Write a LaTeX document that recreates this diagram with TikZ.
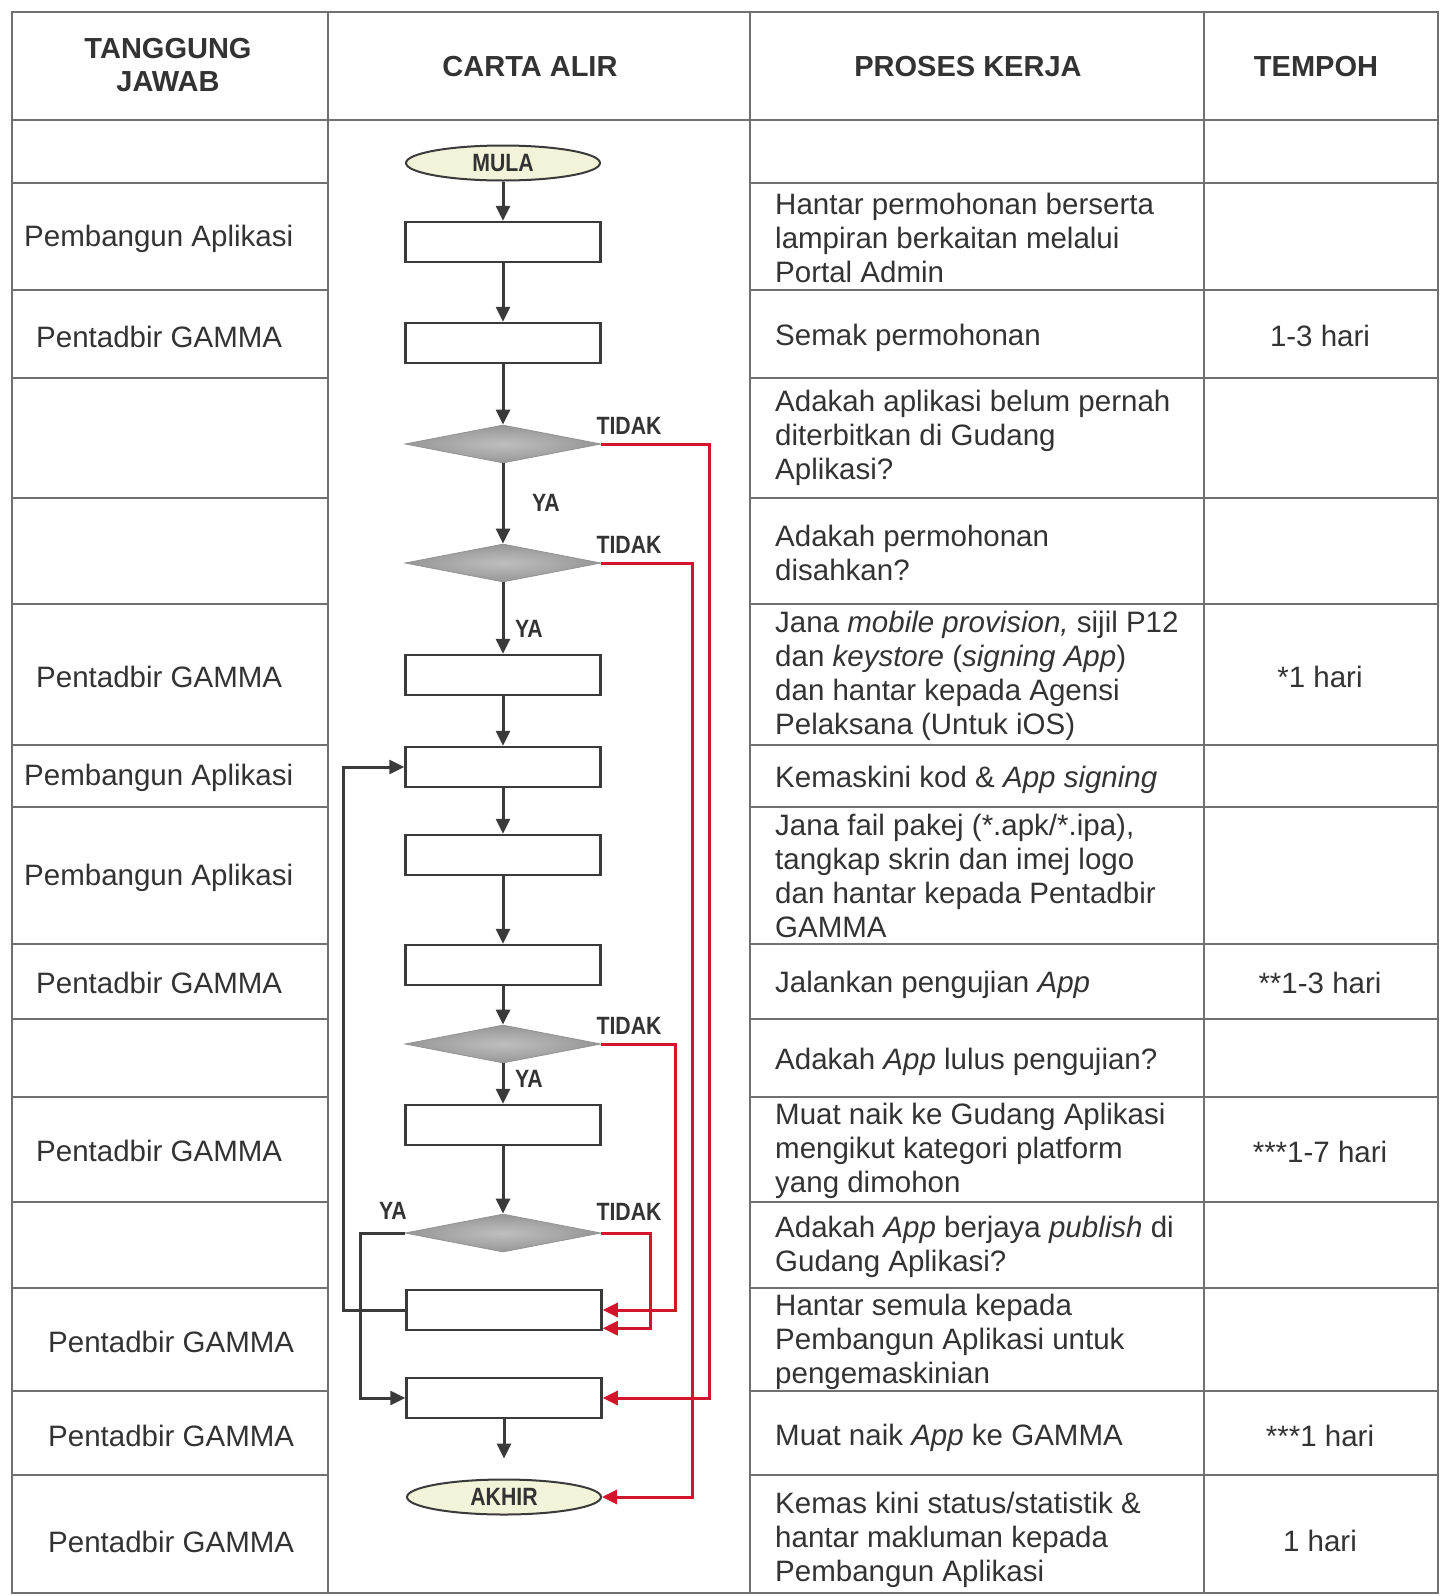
\documentclass[tikz,border=0pt]{standalone}
\usepackage{fontspec}
\setmainfont{Liberation Sans}
\newfontfamily\condfont{Liberation Sans}[FakeStretch=0.85]
\usetikzlibrary{shapes.geometric,arrows.meta,positioning}

\definecolor{tline}{HTML}{707070}
\definecolor{txt}{HTML}{333333}
\definecolor{redln}{HTML}{D2142D}
\definecolor{shline}{HTML}{3A3A3A}
\definecolor{termfill}{HTML}{F3F3DA}
\definecolor{decfill}{HTML}{A3A3A3}

\begin{document}
\begin{tikzpicture}[x=1pt,y=-1pt,
      cell/.style={font=\fontsize{29.5}{34}\selectfont,text=txt,inner sep=0pt,align=left},
      hdr/.style={font=\fontsize{29}{33}\selectfont\bfseries,text=txt,inner sep=0pt,align=center},
      proc/.style={draw=shline,line width=2.5pt,fill=white,minimum width=195pt,minimum height=40pt,inner sep=0pt},
      term/.style={ellipse,draw=shline,line width=2pt,fill=termfill,minimum width=194pt,minimum height=35pt,
        inner sep=0pt,font=\condfont\bfseries\fontsize{25}{25}\selectfont,text=txt},
      dec/.style={diamond,shade,shading=radial,inner color=decfill!70!white,outer color=decfill!92!black,
        draw=decfill!90!black,line width=0.8pt,aspect=5.2,minimum width=196pt,minimum height=38pt,inner sep=0pt},
      lbl/.style={font=\condfont\bfseries\fontsize{25}{25}\selectfont,text=txt,inner sep=0pt},
      flow/.style={draw=shline,line width=3pt,-{Triangle[length=15pt,width=14pt]}},
      back/.style={draw=redln,line width=3pt,-{Triangle[length=15pt,width=14pt]}},
    ]
    \useasboundingbox (0,0) rectangle (1446,1596);
    \fill[white] (0,0) rectangle (1446,1596);

    % jadual
    \draw[tline,line width=2pt] (12,12) rectangle (1438,1593);
    \foreach \x in {328,750,1204}
        \draw[tline,line width=2pt] (\x,12) -- (\x,1593);
    \draw[tline,line width=2.5pt] (12,120) -- (1438,120);
    \foreach \y in {183,290,378,498,604,745,807,944,1019,1097,1202,1288,1391,1475} {
        \draw[tline,line width=2pt] (12,\y) -- (328,\y);
        \draw[tline,line width=2pt] (750,\y) -- (1438,\y);
    }

    \node[hdr] (h1) at (168,65) {TANGGUNG\\JAWAB};
    \node[hdr] (h2) at (530,67) {CARTA ALIR};
    \node[hdr] (h3) at (968,67) {PROSES KERJA};
    \node[hdr] (h4) at (1316,67) {TEMPOH};

    % tanggung jawab
    \node[cell,anchor=west] (tj2) at (24,239) {Pembangun Aplikasi};
    \node[cell,anchor=west] (tj3) at (36,337) {Pentadbir GAMMA};
    \node[cell,anchor=west] (tj6) at (36,677) {Pentadbir GAMMA};
    \node[cell,anchor=west] (tj7) at (24,778) {Pembangun Aplikasi};
    \node[cell,anchor=west] (tj8) at (24,878) {Pembangun Aplikasi};
    \node[cell,anchor=west] (tj9) at (36,983) {Pentadbir GAMMA};
    \node[cell,anchor=west] (tj11) at (36,1151) {Pentadbir GAMMA};
    \node[cell,anchor=west] (tj13) at (48,1342) {Pentadbir GAMMA};
    \node[cell,anchor=west] (tj14) at (48,1436) {Pentadbir GAMMA};
    \node[cell,anchor=west] (tj15) at (48,1542) {Pentadbir GAMMA};

    % proses kerja
    \node[cell,anchor=west] (pk2) at (775,238) {Hantar permohonan berserta\\lampiran berkaitan melalui\\Portal Admin};
    \node[cell,anchor=west] (pk3) at (775,338) {Semak permohonan};
    \node[cell,anchor=west] (pk4) at (775,438) {Adakah aplikasi belum pernah\\diterbitkan di Gudang\\Aplikasi?};
    \node[cell,anchor=west] (pk5) at (775,553) {Adakah permohonan\\disahkan?};
    \node[cell,anchor=west] (pk6) at (775,676) {Jana \textit{mobile provision,} sijil P12\\dan \textit{keystore} (\textit{signing App})\\dan hantar kepada Agensi\\Pelaksana (Untuk iOS)};
    \node[cell,anchor=west] (pk7) at (775,780) {Kemaskini kod \& \textit{App signing}};
    \node[cell,anchor=west] (pk8) at (775,876) {Jana fail pakej (*.apk/*.ipa),\\tangkap skrin dan imej logo\\dan hantar kepada Pentadbir\\GAMMA};
    \node[cell,anchor=west] (pk9) at (775,985) {Jalankan pengujian \textit{App}};
    \node[cell,anchor=west] (pk10) at (775,1062) {Adakah \textit{App} lulus pengujian?};
    \node[cell,anchor=west] (pk11) at (775,1151) {Muat naik ke Gudang Aplikasi\\mengikut kategori platform\\yang dimohon};
    \node[cell,anchor=west] (pk12) at (775,1247) {Adakah \textit{App} berjaya \textit{publish} di\\Gudang Aplikasi?};
    \node[cell,anchor=west] (pk13) at (775,1342) {Hantar semula kepada\\Pembangun Aplikasi untuk\\pengemaskinian};
    \node[cell,anchor=west] (pk14) at (775,1438) {Muat naik \textit{App} ke GAMMA};
    \node[cell,anchor=west] (pk15) at (775,1540) {Kemas kini status/statistik \&\\hantar makluman kepada\\Pembangun Aplikasi};

    % tempoh
    \node[cell] (tp3) at (1320,336) {1-3 hari};
    \node[cell] (tp6) at (1320,677) {*1 hari};
    \node[cell] (tp9) at (1320,983) {**1-3 hari};
    \node[cell] (tp11) at (1320,1152) {***1-7 hari};
    \node[cell] (tp14) at (1320,1436) {***1 hari};
    \node[cell] (tp15) at (1320,1541) {1 hari};

    % carta alir
    \node[term] (mula) at (503,163) {MULA};
    \node[proc] (b1) at (503,242) {};
    \node[proc] (b2) at (503,343) {};
    \node[dec] (d1) at (503,444) {};
    \node[dec] (d2) at (503,563) {};
    \node[proc] (b3) at (503,675) {};
    \node[proc] (b4) at (503,767) {};
    \node[proc] (b5) at (503,855) {};
    \node[proc] (b6) at (503,965) {};
    \node[dec] (d3) at (503,1044) {};
    \node[proc] (b7) at (503,1125) {};
    \node[dec] (d4) at (503,1233) {};
    \node[proc] (b8) at (504,1310) {};
    \node[proc] (b9) at (504,1398) {};
    \node[term] (akhir) at (504,1497) {AKHIR};

    \foreach \a/\b in {mula/b1,b1/b2,b2/d1,d1/d2,d2/b3,b3/b4,b4/b5,b5/b6,b6/d3,d3/b7,b7/d4}
        \draw[flow] (\a) -- (\b);
    \coordinate (ak) at ([yshift=20pt]akhir.north);
    \draw[flow] (b9) -- (ak);

    \coordinate (lx1) at (343,0);
    \coordinate (lx2) at (360,0);
    \draw[flow] (b8.west) -- (b8.west -| lx1) |- (b4.west);
    \draw[flow] (d4.west) -- (d4.west -| lx2) |- (b9.west);

    \coordinate (rx1) at (709,0);
    \coordinate (rx2) at (692,0);
    \coordinate (rx3) at (675,0);
    \coordinate (rx4) at (650,0);
    \coordinate (b8se) at ([yshift=3pt]b8.south east);
    \draw[back] (d1.east) -- (d1.east -| rx1) |- (b9.east);
    \draw[back] (d2.east) -- (d2.east -| rx2) |- (akhir.east);
    \draw[back] (d3.east) -- (d3.east -| rx3) |- (b8.east);
    \draw[back] (d4.east) -- (d4.east -| rx4) |- (b8se);

    \node[lbl,anchor=south west] (t1) at ([xshift=-5pt,yshift=9pt]d1.east) {TIDAK};
    \node[lbl,anchor=south west] (t2) at ([xshift=-5pt,yshift=9pt]d2.east) {TIDAK};
    \node[lbl,anchor=south west] (t3) at ([xshift=-5pt,yshift=9pt]d3.east) {TIDAK};
    \node[lbl,anchor=south west] (t4) at ([xshift=-5pt,yshift=12pt]d4.east) {TIDAK};
    \node[lbl] (y1) at (546,503) {YA};
    \node[lbl] (y2) at (529,629) {YA};
    \node[lbl] (y3) at (529,1079) {YA};
    \node[lbl] (y4) at (393,1211) {YA};
\end{tikzpicture}
\end{document}
